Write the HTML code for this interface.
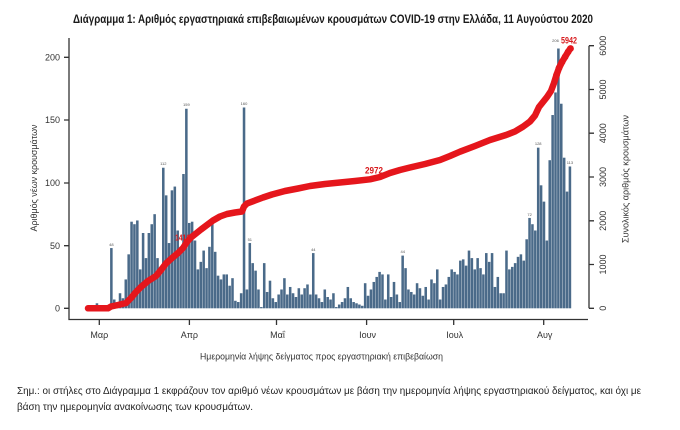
<!DOCTYPE html>
<html>
<head>
<meta charset="utf-8">
<style>
html,body{margin:0;padding:0;background:#fff;}
svg{display:block;font-family:"Liberation Sans","DejaVu Sans",sans-serif;}
</style>
</head>
<body>
<svg width="680" height="430" viewBox="0 0 680 430" xmlns="http://www.w3.org/2000/svg">
<rect width="680" height="430" fill="#fff"/>

<!-- Title -->
<text x="73" y="23" font-size="11.5" font-weight="bold" fill="#1a1a1a" textLength="520" lengthAdjust="spacingAndGlyphs">Διάγραμμα 1: Αριθμός εργαστηριακά επιβεβαιωμένων κρουσμάτων COVID-19 στην Ελλάδα, 11 Αυγούστου 2020</text>

<!-- Bars -->
<g transform="translate(87.03,308.3) scale(2.884,-1.255)" fill="#4a6a89">
<rect x="0" width=".88" height="2"/><rect x="1" width=".88" height="2"/><rect x="2" width=".88" height="1"/><rect x="3" width=".88" height="4"/><rect x="4" width=".88" height="2"/><rect x="6" width=".88" height="1"/><rect x="7" width=".88" height="2"/>
<rect x="8" width=".88" height="48"/><rect x="9" width=".88" height="7"/><rect x="10" width=".88" height="4"/><rect x="11" width=".88" height="12"/><rect x="12" width=".88" height="8"/><rect x="13" width=".88" height="23"/><rect x="14" width=".88" height="43"/><rect x="15" width=".88" height="69"/><rect x="16" width=".88" height="67"/><rect x="17" width=".88" height="70"/><rect x="18" width=".88" height="31"/><rect x="19" width=".88" height="60"/><rect x="20" width=".88" height="40"/><rect x="21" width=".88" height="60"/><rect x="22" width=".88" height="67"/><rect x="23" width=".88" height="75"/><rect x="24" width=".88" height="40"/><rect x="25" width=".88" height="28"/><rect x="26" width=".88" height="112"/><rect x="27" width=".88" height="90"/><rect x="28" width=".88" height="52"/><rect x="29" width=".88" height="94"/><rect x="30" width=".88" height="97"/><rect x="31" width=".88" height="62"/><rect x="32" width=".88" height="46"/><rect x="33" width=".88" height="107"/><rect x="34" width=".88" height="159"/>
<rect x="35" width=".88" height="68"/><rect x="36" width=".88" height="69"/><rect x="37" width=".88" height="54"/><rect x="38" width=".88" height="31"/><rect x="39" width=".88" height="37"/><rect x="40" width=".88" height="46"/><rect x="41" width=".88" height="32"/><rect x="42" width=".88" height="49"/><rect x="43" width=".88" height="68"/><rect x="44" width=".88" height="45"/><rect x="45" width=".88" height="26"/><rect x="46" width=".88" height="23"/><rect x="47" width=".88" height="27"/><rect x="48" width=".88" height="27"/><rect x="49" width=".88" height="18"/><rect x="50" width=".88" height="24"/><rect x="51" width=".88" height="6"/><rect x="52" width=".88" height="5"/><rect x="53" width=".88" height="12"/>
<rect x="54" width=".88" height="160"/>
<rect x="55" width=".88" height="15"/><rect x="56" width=".88" height="52"/><rect x="57" width=".88" height="36"/><rect x="58" width=".88" height="30"/><rect x="59" width=".88" height="15"/><rect x="60" width=".88" height="1"/><rect x="61" width=".88" height="36"/><rect x="62" width=".88" height="13"/><rect x="63" width=".88" height="22"/><rect x="64" width=".88" height="8"/><rect x="65" width=".88" height="5"/><rect x="66" width=".88" height="11"/><rect x="67" width=".88" height="15"/><rect x="68" width=".88" height="24"/><rect x="69" width=".88" height="11"/><rect x="70" width=".88" height="17"/><rect x="71" width=".88" height="12"/><rect x="72" width=".88" height="9"/><rect x="73" width=".88" height="16"/><rect x="74" width=".88" height="11"/><rect x="75" width=".88" height="16"/><rect x="76" width=".88" height="19"/><rect x="77" width=".88" height="11"/>
<rect x="78" width=".88" height="44"/>
<rect x="79" width=".88" height="11"/><rect x="80" width=".88" height="8"/><rect x="81" width=".88" height="5"/><rect x="82" width=".88" height="15"/><rect x="83" width=".88" height="9"/><rect x="84" width=".88" height="7"/><rect x="85" width=".88" height="12"/><rect x="86" width=".88" height="1"/><rect x="87" width=".88" height="3"/><rect x="88" width=".88" height="5"/><rect x="89" width=".88" height="8"/><rect x="90" width=".88" height="17"/><rect x="91" width=".88" height="8"/><rect x="92" width=".88" height="5"/><rect x="93" width=".88" height="4"/><rect x="94" width=".88" height="3"/><rect x="95" width=".88" height="2"/><rect x="96" width=".88" height="20"/><rect x="97" width=".88" height="10"/><rect x="98" width=".88" height="15"/><rect x="99" width=".88" height="21"/><rect x="100" width=".88" height="25"/><rect x="101" width=".88" height="29"/><rect x="102" width=".88" height="27"/><rect x="103" width=".88" height="7"/><rect x="104" width=".88" height="27"/><rect x="105" width=".88" height="9"/><rect x="106" width=".88" height="21"/><rect x="107" width=".88" height="11"/><rect x="108" width=".88" height="5"/>
<rect x="109" width=".88" height="42"/>
<rect x="110" width=".88" height="32"/><rect x="111" width=".88" height="15"/><rect x="112" width=".88" height="13"/><rect x="113" width=".88" height="11"/><rect x="114" width=".88" height="20"/><rect x="115" width=".88" height="16"/><rect x="116" width=".88" height="10"/><rect x="117" width=".88" height="17"/><rect x="118" width=".88" height="7"/><rect x="119" width=".88" height="23"/><rect x="120" width=".88" height="20"/><rect x="121" width=".88" height="31"/><rect x="122" width=".88" height="7"/><rect x="123" width=".88" height="17"/><rect x="124" width=".88" height="19"/><rect x="125" width=".88" height="25"/><rect x="126" width=".88" height="31"/><rect x="127" width=".88" height="29"/><rect x="128" width=".88" height="27"/>
<rect x="129" width=".88" height="38"/><rect x="130" width=".88" height="39"/><rect x="131" width=".88" height="34"/><rect x="132" width=".88" height="46"/><rect x="133" width=".88" height="40"/><rect x="134" width=".88" height="31"/><rect x="135" width=".88" height="40"/><rect x="136" width=".88" height="32"/><rect x="137" width=".88" height="27"/><rect x="138" width=".88" height="44"/><rect x="139" width=".88" height="37"/><rect x="140" width=".88" height="44"/><rect x="141" width=".88" height="17"/><rect x="142" width=".88" height="25"/><rect x="143" width=".88" height="12"/><rect x="144" width=".88" height="12"/>
<rect x="145" width=".88" height="46"/><rect x="146" width=".88" height="31"/><rect x="147" width=".88" height="33"/><rect x="148" width=".88" height="36"/><rect x="149" width=".88" height="41"/><rect x="150" width=".88" height="43"/><rect x="151" width=".88" height="38"/><rect x="152" width=".88" height="55"/><rect x="153" width=".88" height="72"/><rect x="154" width=".88" height="67"/><rect x="155" width=".88" height="62"/><rect x="156" width=".88" height="128"/><rect x="157" width=".88" height="98"/><rect x="158" width=".88" height="85"/><rect x="159" width=".88" height="54"/><rect x="160" width=".88" height="118"/><rect x="161" width=".88" height="154"/><rect x="162" width=".88" height="172"/><rect x="163" width=".88" height="207"/><rect x="164" width=".88" height="163"/><rect x="165" width=".88" height="120"/><rect x="166" width=".88" height="93"/><rect x="167" width=".88" height="113"/>
</g>

<!-- tiny bar value labels (selection) -->
<g font-size="4" fill="#555" text-anchor="middle">
<text x="111.4" y="246">48</text>
<text x="163.3" y="165">112</text>
<text x="186.4" y="106">159</text>
<text x="244" y="105">160</text>
<text x="249.8" y="241">51</text>
<text x="313.3" y="251">44</text>
<text x="402.7" y="253">44</text>
<text x="529.6" y="216">72</text>
<text x="538.2" y="145">128</text>
<text x="555.5" y="42">206</text>
<text x="569.9" y="164">113</text>
</g>

<!-- Axes -->
<g stroke="#333" stroke-width="1.3" fill="none">
<path d="M69 38 V319.5 H588"/>
<path d="M64 57.3H69 M64 120H69 M64 183H69 M64 245.7H69 M64 308.3H69"/>
<path d="M99.3 319.5V325 M189.4 319.5V325 M276.5 319.5V325 M366.6 319.5V325 M453.7 319.5V325 M543.7 319.5V325"/>
<path d="M589 45.7V308.3"/>
<path d="M589 45.7H594 M589 89.5H594 M589 133.2H594 M589 177H594 M589 220.8H594 M589 264.5H594 M589 308.3H594"/>
</g>

<!-- Left tick labels -->
<g font-size="9" fill="#333" text-anchor="end">
<text x="60" y="60.5">200</text>
<text x="60" y="123.2">150</text>
<text x="60" y="186.2">100</text>
<text x="60" y="248.9">50</text>
<text x="60" y="311.5">0</text>
</g>

<!-- Left axis title -->
<text transform="translate(37,178) rotate(-90)" font-size="9.5" fill="#333" text-anchor="middle" textLength="107" lengthAdjust="spacingAndGlyphs">Αριθμός νέων κρουσμάτων</text>

<!-- Right tick labels -->
<g font-size="9" fill="#333" text-anchor="middle">
<text transform="translate(606,45.7) rotate(-90)">6000</text>
<text transform="translate(606,89.5) rotate(-90)">5000</text>
<text transform="translate(606,133.2) rotate(-90)">4000</text>
<text transform="translate(606,177) rotate(-90)">3000</text>
<text transform="translate(606,220.8) rotate(-90)">2000</text>
<text transform="translate(606,264.5) rotate(-90)">1000</text>
<text transform="translate(606,308.3) rotate(-90)">0</text>
</g>

<!-- Right axis title -->
<text transform="translate(628.5,179) rotate(-90)" font-size="9.5" fill="#333" text-anchor="middle" textLength="128" lengthAdjust="spacingAndGlyphs">Συνολικός αριθμός κρουσμάτων</text>

<!-- Month labels -->
<g font-size="9" fill="#333" text-anchor="middle">
<text x="99.3" y="338">Μαρ</text>
<text x="189.4" y="338">Απρ</text>
<text x="277.5" y="338">Μαΐ</text>
<text x="367.6" y="338">Ιουν</text>
<text x="454.7" y="338">Ιουλ</text>
<text x="544.7" y="338">Αυγ</text>
</g>

<!-- X axis title -->
<text x="321.5" y="359.5" font-size="9.5" fill="#333" text-anchor="middle" textLength="243" lengthAdjust="spacingAndGlyphs">Ημερομηνία λήψης δείγματος προς εργαστηριακή επιβεβαίωση</text>

<!-- cumulative labels (under line) -->
<text x="175" y="240.5" font-size="8" fill="#d7191c" font-weight="bold" textLength="15" lengthAdjust="spacingAndGlyphs">1416</text>

<!-- Cumulative red line -->
<polyline fill="none" stroke="#e5161c" stroke-width="6.5" stroke-linejoin="round" stroke-linecap="round"
points="88,308.3 108,308.3 111,306.5 118,305 126,303 131,298 136,292 141,287 148,281 156,276 161,270 166,263.5 172,258 178,253 183,248 187,242 191,237.5 196,233.5 201,229.5 207,225 213,220.5 220,216.5 227,214 235,212.5 242,211.5 244,206.5 247,203.5 255,200.5 263,197.5 272,194.5 285,191 298,188.5 310,186 325,184 340,182.5 355,181 370,179.3 380,177 390,173 400,170 410,167.5 425,164 440,160 450,156 460,151.7 475,146 490,140 506,135 515,131.5 523,126.7 530,121.5 535,115.5 539,107 543,102 547,97 551,91 554,83 556.5,75 559,68 562,62 565,57 568,52 570,49"/>
<g fill="#e5161c">
<circle cx="556.5" cy="75" r="3.4"/><circle cx="559" cy="68" r="3.4"/><circle cx="562" cy="62" r="3.4"/><circle cx="565" cy="57" r="3.4"/><circle cx="568" cy="52" r="3.4"/><circle cx="570.5" cy="48.5" r="3.4"/>
</g>

<!-- value labels on line -->
<text x="365" y="173.5" font-size="9" font-weight="bold" fill="#d7191c" textLength="18" lengthAdjust="spacingAndGlyphs">2972</text>
<text x="561" y="43.5" font-size="9" font-weight="bold" fill="#d7191c" textLength="16" lengthAdjust="spacingAndGlyphs">5942</text>

<!-- Footnote -->
<text x="17" y="394" font-size="10.5" fill="#222" textLength="624" lengthAdjust="spacingAndGlyphs">Σημ.: οι στήλες στο Διάγραμμα 1 εκφράζουν τον αριθμό νέων κρουσμάτων με βάση την ημερομηνία λήψης εργαστηριακού δείγματος, και όχι με</text>
<text x="17" y="410" font-size="10.5" fill="#222" textLength="236" lengthAdjust="spacingAndGlyphs">βάση την ημερομηνία ανακοίνωσης των κρουσμάτων.</text>
</svg>
</body>
</html>
